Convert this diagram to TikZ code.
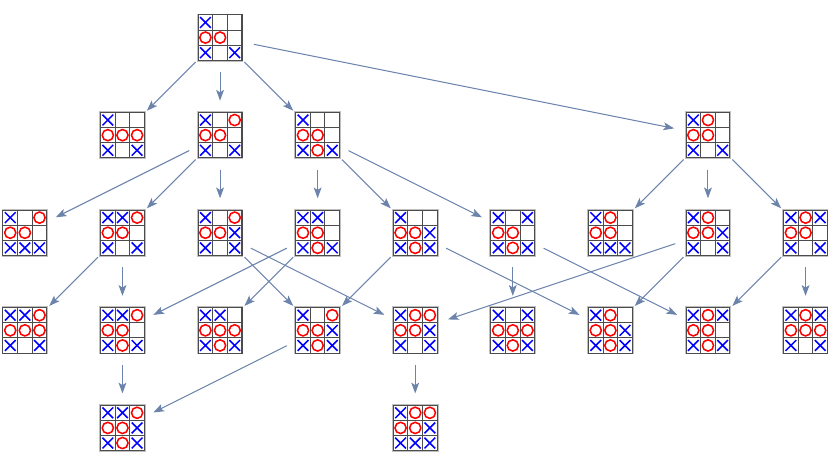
\documentclass[tikz,border=0pt]{standalone}
\usepackage{tikz}
\usetikzlibrary{arrows.meta}
\definecolor{edgeblue}{RGB}{108,132,172}

\begin{document}
\begin{tikzpicture}[
		spot/.style={circle, minimum size=1.414cm, inner sep=0pt, outer sep=0pt},
		cellbox/.style={draw=black!70, fill=white, line width=0.6pt},
		markx/.pic={\draw[blue, line width=0.9pt] (-0.11,-0.11) -- (0.11,0.11) (-0.11,0.11) -- (0.11,-0.11);},
		marko/.pic={\draw[red, line width=0.9pt] (0,0) circle (0.115);},
		markn/.pic={},
		board/.style={spot, path picture={
			\begin{scope}[shift={(path picture bounding box.center)}]
				\draw[black!25, line width=1.6pt] (-0.45,-0.465) rectangle (0.45,0.465);
				\foreach \mk [count=\k from 0] in {#1} {
					\pgfmathtruncatemacro\bcol{mod(\k,3)}
					\pgfmathtruncatemacro\brow{div(\k,3)}
					\draw[cellbox] (\bcol*0.3-0.45, 0.465-\brow*0.31) rectangle ++(0.3,-0.31);
					\pic at (\bcol*0.3-0.3, 0.31-\brow*0.31) {mark\mk};
				}
			\end{scope}}},
		move/.style={-{Stealth[length=0.22cm, width=0.16cm, inset=0.05cm]}, edgeblue, line width=0.6pt}
	]

		\useasboundingbox (0,0) rectangle (16.97,-9.63);

		\node[board={x,n,n,o,o,n,x,n,x}] (root) at (4.51, -0.77) {};

		\node[board={x,n,n,o,o,o,x,n,x}] (A1) at (2.51, -2.77) {};
		\node[board={x,n,o,o,o,n,x,n,x}] (A2) at (4.51, -2.77) {};
		\node[board={x,n,n,o,o,n,x,o,x}] (A3) at (6.51, -2.77) {};
		\node[board={x,o,n,o,o,n,x,n,x}] (A4) at (14.51, -2.77) {};

		\draw[move] (root) -- (A1);
		\draw[move] (root) -- (A2);
		\draw[move] (root) -- (A3);
		\draw[move] (root) -- (A4);

		\node[board={x,n,o,o,o,n,x,x,x}] (B1) at (0.51, -4.77) {};
		\node[board={x,x,o,o,o,n,x,n,x}] (B2) at (2.51, -4.77) {};
		\node[board={x,n,o,o,o,x,x,n,x}] (B3) at (4.51, -4.77) {};
		\node[board={x,x,n,o,o,n,x,o,x}] (B4) at (6.51, -4.77) {};
		\node[board={x,n,n,o,o,x,x,o,x}] (B5) at (8.51, -4.77) {};
		\node[board={x,n,x,o,o,n,x,o,x}] (B6) at (10.51, -4.77) {};
		\node[board={x,o,n,o,o,n,x,x,x}] (B7) at (12.51, -4.77) {};
		\node[board={x,o,n,o,o,x,x,n,x}] (B8) at (14.51, -4.77) {};
		\node[board={x,o,x,o,o,n,x,n,x}] (B9) at (16.51, -4.77) {};

		\draw[move] (A2) -- (B1);
		\draw[move] (A2) -- (B2);
		\draw[move] (A2) -- (B3);
		\draw[move] (A3) -- (B4);
		\draw[move] (A3) -- (B5);
		\draw[move] (A3) -- (B6);
		\draw[move] (A4) -- (B7);
		\draw[move] (A4) -- (B8);
		\draw[move] (A4) -- (B9);

		\node[board={x,x,o,o,o,o,x,n,x}] (C1) at (0.51, -6.77) {};
		\node[board={x,x,o,o,o,n,x,o,x}] (C2) at (2.51, -6.77) {};
		\node[board={x,x,n,o,o,o,x,o,x}] (C3) at (4.51, -6.77) {};
		\node[board={x,n,o,o,o,x,x,o,x}] (C4) at (6.51, -6.77) {};
		\node[board={x,o,o,o,o,x,x,n,x}] (C5) at (8.51, -6.77) {};
		\node[board={x,n,x,o,o,o,x,o,x}] (C6) at (10.51, -6.77) {};
		\node[board={x,o,n,o,o,x,x,o,x}] (C7) at (12.51, -6.77) {};
		\node[board={x,o,x,o,o,n,x,o,x}] (C8) at (14.51, -6.77) {};
		\node[board={x,o,x,o,o,o,x,n,x}] (C9) at (16.51, -6.77) {};

		\draw[move] (B2) -- (C1);
		\draw[move] (B2) -- (C2);
		\draw[move] (B3) -- (C4);
		\draw[move] (B3) -- (C5);
		\draw[move] (B4) -- (C2);
		\draw[move] (B4) -- (C3);
		\draw[move] (B5) -- (C4);
		\draw[move] (B5) -- (C7);
		\draw[move] (B6) -- (C6);
		\draw[move] (B6) -- (C8);
		\draw[move] (B8) -- (C5);
		\draw[move] (B8) -- (C7);
		\draw[move] (B9) -- (C8);
		\draw[move] (B9) -- (C9);

		\node[board={x,x,o,o,o,x,x,o,x}] (D1) at (2.51, -8.77) {};
		\node[board={x,o,o,o,o,x,x,x,x}] (D2) at (8.51, -8.77) {};

		\draw[move] (C2) -- (D1);
		\draw[move] (C4) -- (D1);
		\draw[move] (C5) -- (D2);

	\end{tikzpicture}
\end{document}
